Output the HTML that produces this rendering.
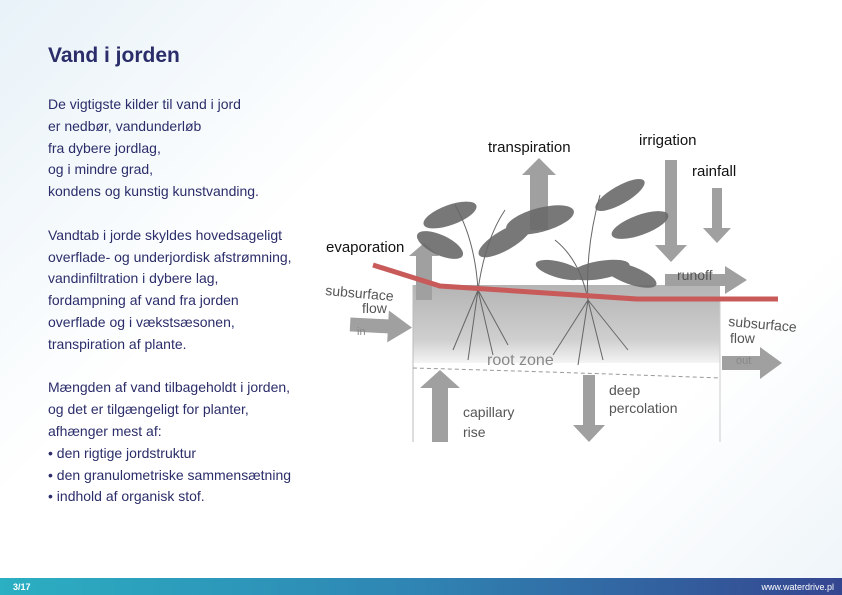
<!DOCTYPE html>
<html><head><meta charset="utf-8"><style>
body{margin:0;width:842px;height:595px;overflow:hidden;font-family:"Liberation Sans",sans-serif;background:linear-gradient(135deg,#e8f2f8 0%,#ffffff 35%,#ffffff 75%,#eef5f9 100%);position:relative}
h1{position:absolute;left:48px;top:44px;margin:0;font-size:21px;font-weight:bold;color:#2b2d6a}
.t{position:absolute;left:48px;top:94px;font-size:14px;line-height:21.8px;color:#2b2d6a}
.f{position:absolute;left:0;top:578px;width:842px;height:17px;background:linear-gradient(90deg,#2bafc2,#2f84b3 50%,#354690);color:#fff;font-size:9px;font-weight:bold}
</style></head><body>
<h1>Vand i jorden</h1>
<div class="t">De vigtigste kilder til vand i jord<br>er nedbør, vandunderløb<br>fra dybere jordlag,<br>og i mindre grad,<br>kondens og kunstig kunstvanding.<br><br>Vandtab i jorde skyldes hovedsageligt<br>overflade- og underjordisk afstrømning,<br>vandinfiltration i dybere lag,<br>fordampning af vand fra jorden<br>overflade og i vækstsæsonen,<br>transpiration af plante.<br><br>Mængden af vand tilbageholdt i jorden,<br>og det er tilgængeligt for planter,<br>afhænger mest af:<br>• den rigtige jordstruktur<br>• den granulometriske sammensætning<br>• indhold af organisk stof.</div>
<svg style="position:absolute;left:0;top:0" width="842" height="595" font-family="Liberation Sans,sans-serif">
<defs><linearGradient id="s" x1="0" y1="0" x2="0" y2="1"><stop offset="0" stop-color="#b4b4b4"/><stop offset="0.7" stop-color="#cfcfcf"/><stop offset="1" stop-color="#f4f4f4"/></linearGradient></defs>
<rect x="413" y="285" width="307" height="78" fill="url(#s)"/>
<line x1="413" y1="285" x2="413" y2="442" stroke="#bbb"/><line x1="720" y1="300" x2="720" y2="442" stroke="#ccc"/>
<path d="M413 368 Q560 372 720 378" stroke="#999" stroke-dasharray="4,3" fill="none"/>
<g fill="#a0a0a0">
<path d="M416 300 v-44 h-7 l15 -13 15 13 h-7 v44z"/>
<path d="M530 230 v-55 h-8 l17 -17 17 17 h-8 v55z"/>
<path d="M665 160 h12 v85 h10 l-16 17 -16 -17 h10z"/>
<path d="M712 188 h10 v40 h9 l-14 15 -14 -15 h9z"/>
<path d="M665 286 v-12 h60 v-8 l22 14 -22 14 v-8z"/>
<path d="M350 333 v-14 h38 v-9 l24 16 -24 16 v-9z" transform="rotate(3 380 327)"/>
<path d="M722 370 v-14 h38 v-9 l22 16 -22 16 v-9z"/>
<path d="M432 442 v-54 h-12 l20 -18 20 18 h-12 v54z"/>
<path d="M583 375 h12 v50 h10 l-16 17 -16 -17 h10z"/>
</g>
<g fill="#6a6a6a" opacity="0.9">
<ellipse cx="450" cy="215" rx="28" ry="10" transform="rotate(-20 450 215)"/>
<ellipse cx="440" cy="245" rx="25" ry="10" transform="rotate(25 440 245)"/>
<ellipse cx="505" cy="240" rx="30" ry="10" transform="rotate(-30 505 240)"/>
<ellipse cx="540" cy="220" rx="35" ry="12" transform="rotate(-15 540 220)"/>
<ellipse cx="620" cy="195" rx="28" ry="9" transform="rotate(-30 620 195)"/>
<ellipse cx="640" cy="225" rx="30" ry="10" transform="rotate(-20 640 225)"/>
<ellipse cx="600" cy="270" rx="30" ry="9" transform="rotate(-10 600 270)"/>
<ellipse cx="630" cy="275" rx="28" ry="9" transform="rotate(20 630 275)"/>
<ellipse cx="560" cy="270" rx="25" ry="8" transform="rotate(15 560 270)"/>
</g>
<g stroke="#666" fill="none" stroke-width="1"><path d="M478 290 Q475 240 455 205M478 290 Q485 240 505 210M588 300 Q585 250 600 195M588 300 Q580 260 555 240"/>
<path d="M478 290 l-25 60 M478 290 l-10 70 M478 290 l15 65 M478 290 l30 55 M588 300 l-35 55 M588 300 l-10 65 M588 300 l15 60 M588 300 l40 50"/></g>
<polyline points="373,265 440,286 637,299 778,299" stroke="#c85a5a" stroke-width="5" fill="none"/>
<g font-size="15" fill="#111"><text x="488" y="152">transpiration</text><text x="639" y="145">irrigation</text><text x="692" y="176">rainfall</text><text x="326" y="252">evaporation</text></g>
<g font-size="14" fill="#555"><text x="677" y="280">runoff</text><text x="325" y="295" transform="rotate(5 325 295)">subsurface</text><text x="362" y="313">flow</text><text x="728" y="326" transform="rotate(5 728 326)">subsurface</text><text x="730" y="343">flow</text><text x="463" y="417">capillary</text><text x="463" y="437">rise</text><text x="609" y="395">deep</text><text x="609" y="413">percolation</text><text x="487" y="365" font-size="16" fill="#888">root zone</text>
<text x="357" y="335" font-size="11" fill="#888">in</text><text x="736" y="364" font-size="11" fill="#888">out</text></g>
</svg>
<div class="f"><span style="position:absolute;left:13px;top:4px">3/17</span><span style="position:absolute;right:8px;top:4px;font-weight:normal">www.waterdrive.pl</span></div>
</body></html>
